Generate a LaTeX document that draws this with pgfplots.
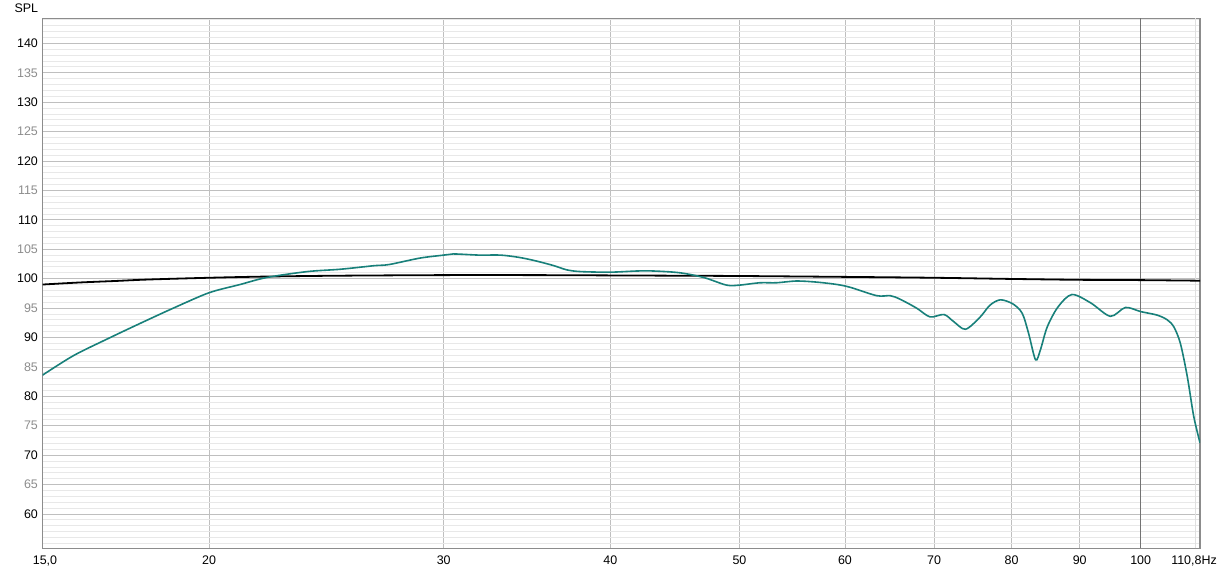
\documentclass[border=0pt]{standalone}
\usepackage{fontspec}
\setmainfont{Liberation Sans}
\usepackage{pgfplots}
\pgfplotsset{compat=1.18}
\definecolor{teal1}{RGB}{24,128,122}
\definecolor{labgray}{RGB}{140,140,140}
\begin{document}
\begin{tikzpicture}
\useasboundingbox (-42.5bp,-23.7bp) rectangle (1179.5bp,548.3bp);
\begin{axis}[
  at={(0,0)}, anchor=south west, scale only axis,
  width=1157.5bp, height=530bp,
  xmode=log, xmin=15, xmax=110.8, ymin=54.17, ymax=144.25,
  xtick={15,20,30,40,50,60,70,80,90,100,110.8},
  xticklabels={{\hspace*{5bp}15,0},20,30,40,50,60,70,80,90,100,{110,8Hz\hspace*{12bp}}},
  ytick={60,65,...,140},
  yticklabels={60,{\color{labgray}65},70,{\color{labgray}75},80,{\color{labgray}85},90,{\color{labgray}95},100,{\color{labgray}105},110,{\color{labgray}115},120,{\color{labgray}125},130,{\color{labgray}135},140},
  minor ytick={55,56,...,144},
  xmajorgrids, ymajorgrids, yminorgrids,
  major grid style={color=black!25, line width=0.8bp},
  minor grid style={color=black!9, line width=0.8bp},
  major tick length=0pt, minor tick length=0pt,
  axis line style={color=black!45, line width=1.3bp},
  /pgf/number format/assume math mode=true,
  every tick label/.append style={font=\fontsize{12.5}{14}\selectfont},
  yticklabel style={anchor=east, inner sep=0pt, xshift=-4.4bp},
  xticklabel style={anchor=north, inner sep=0pt, yshift=-7.5bp},
  clip=true,
]
\draw[color=black!55, line width=1bp] (axis cs:100,54.17) -- (axis cs:100,144.25);
\draw[color=black!12, line width=0.8bp] (axis cs:110,54.17) -- (axis cs:110,144.25);
\addplot[black, line width=1.8bp, smooth] coordinates {
(15,99.0) (16,99.35) (17,99.6) (18,99.85) (20,100.15) (22,100.35) (25,100.5) (30,100.6) (35,100.6) (40,100.55) (45,100.5) (50,100.45) (60,100.3) (70,100.15) (80,99.95) (90,99.8) (100,99.75) (110.8,99.65)
};
\addplot[teal1, line width=1.6bp, smooth, tension=0.5] coordinates {
(15.0,83.6) (15.82,86.9) (16.76,89.7) (17.76,92.4) (18.81,95.0) (20.0,97.6) (21.1,99.0) (22.1,100.2) (23.7,101.2) (25.1,101.6) (26.6,102.2) (27.3,102.4) (28.8,103.5) (30.0,104.0) (30.5,104.2) (31.9,104.0) (33.1,104.0) (34.2,103.6) (35.2,103.0) (36.3,102.2) (37.1,101.5) (38.0,101.2) (40.0,101.1) (41.9,101.3) (43.1,101.3) (45.1,101.0) (47.0,100.2) (48.9,98.9) (50.0,98.9) (51.8,99.3) (53.3,99.3) (55.2,99.6) (57.2,99.4) (59.2,99.0) (60.6,98.5) (63.4,97.1) (64.9,97.1) (66.0,96.5) (67.9,95.0) (69.5,93.5) (71.2,93.9) (72.4,92.7) (73.9,91.4) (75.8,93.5) (77.1,95.5) (78.5,96.4) (80.2,95.7) (81.5,94.1) (82.4,90.7) (83.4,86.2) (84.1,87.9) (85.1,91.8) (86.7,95.2) (88.8,97.3) (91.7,95.9) (94.9,93.6) (97.4,95.1) (100,94.4) (102.9,93.8) (104.7,93.0) (105.9,91.8) (107.1,89.0) (108.4,83.3) (109.6,76.6) (110.8,72.1)
};
\end{axis}
\node[anchor=base east, inner sep=0pt, font=\fontsize{12.5}{14}\selectfont] at (-4.2bp,535.8bp) {SPL};
\end{tikzpicture}
\end{document}
